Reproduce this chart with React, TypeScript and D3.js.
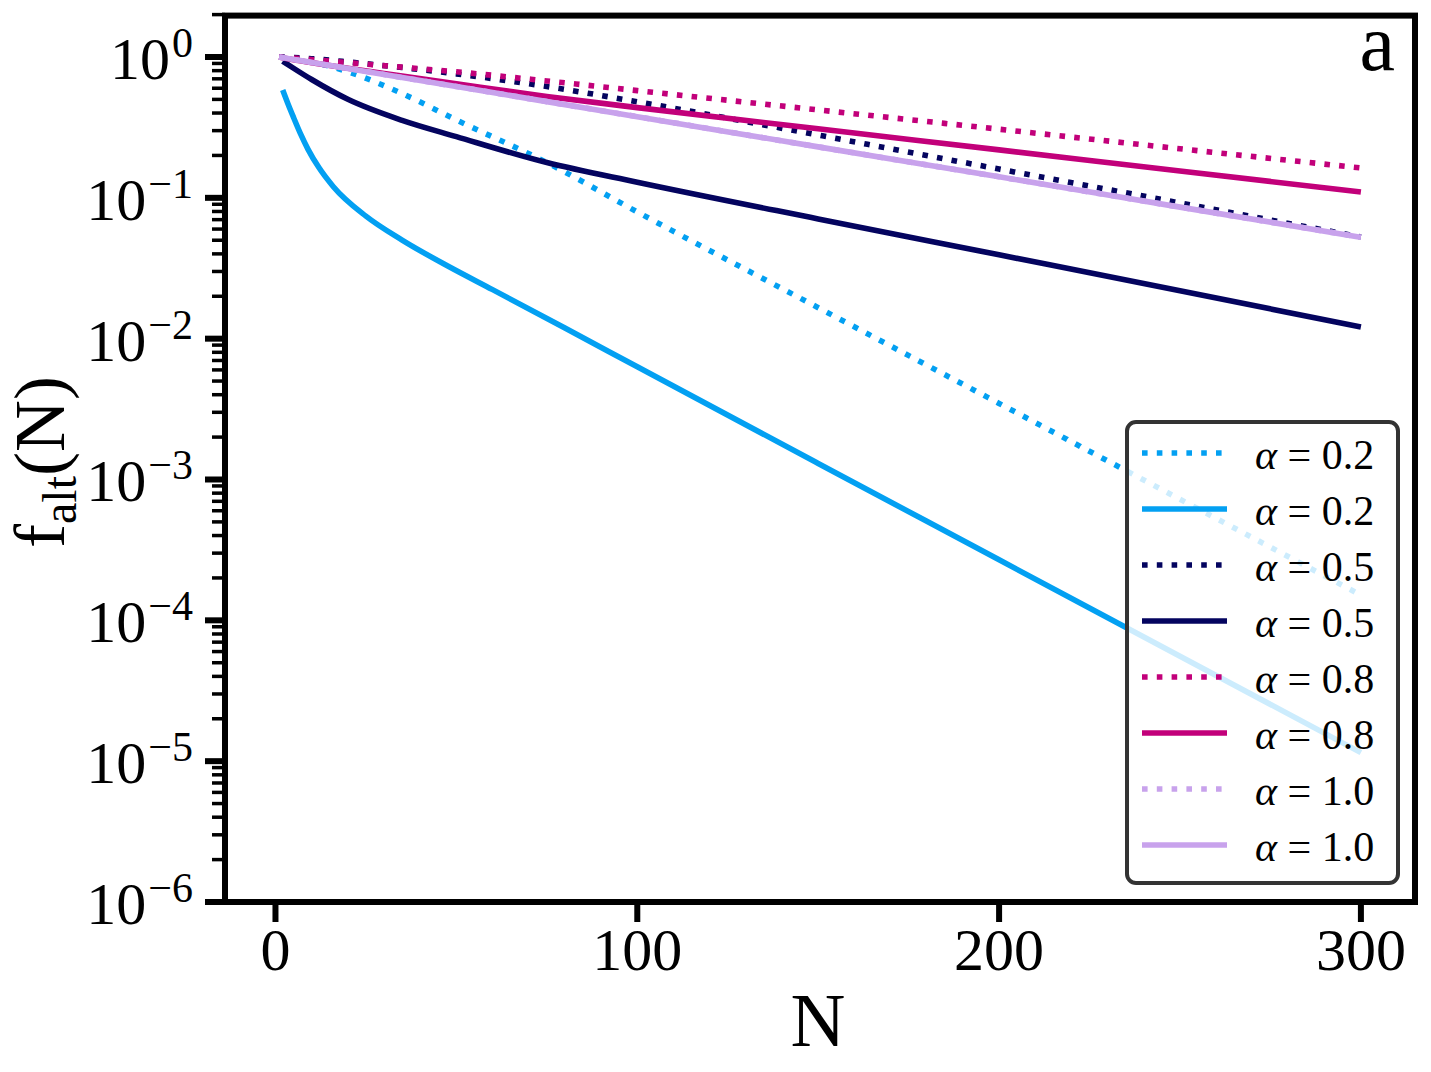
import React, { useRef, useEffect } from "react";
import * as d3 from "d3";

const nGrid = [1, 5, 10, 20, 35, 50, 75, 100, 150, 200, 250, 300];
const nLightBlueSolid = [2, 3.5, 5, 7, 9, 12, 16, 25, 35, 48, 60, 80, 100, 150, 200, 250, 300];
const nNavySolid = [2, 5, 10, 20, 35, 50, 75, 100, 150, 200, 250, 300];

// f_alt(N) values
const a02Dotted = [1.0, 0.973, 0.923, 0.785, 0.55, 0.357, 0.178, 0.0794, 0.0166, 3.47e-3, 7.24e-4, 1.51e-4];
const a02Solid = [
  0.583, 0.462, 0.372, 0.282, 0.221, 0.164, 0.12, 0.0741, 0.0501, 0.0324, 0.0223, 0.0119, 6.31e-3, 1.3e-3,
  2.69e-4, 5.56e-5, 1.15e-5,
];
const a05Dotted = [1.0, 0.991, 0.973, 0.923, 0.841, 0.759, 0.617, 0.481, 0.279, 0.16, 0.092, 0.0527];
const a05Solid = [0.933, 0.832, 0.692, 0.501, 0.355, 0.272, 0.178, 0.129, 0.0708, 0.0394, 0.0219, 0.0121];
const a08Dotted = [1.0, 0.982, 0.959, 0.912, 0.847, 0.785, 0.676, 0.577, 0.421, 0.307, 0.223, 0.163];
const a08Solid = [1.0, 0.955, 0.912, 0.832, 0.733, 0.646, 0.525, 0.437, 0.309, 0.219, 0.155, 0.11];
const a10Dotted = [1.0, 0.961, 0.915, 0.829, 0.715, 0.617, 0.482, 0.377, 0.23, 0.141, 0.0859, 0.0525];
const a10Solid = [1.0, 0.961, 0.915, 0.829, 0.715, 0.617, 0.482, 0.377, 0.23, 0.141, 0.0859, 0.0525];

const legendLabels = ["0.2", "0.2", "0.5", "0.5", "0.8", "0.8", "1.0", "1.0"];
const xTicks = [0, 100, 200, 300];
const yExponents = [0, -1, -2, -3, -4, -5, -6];

const LIGHT_BLUE = "#03A0F2";
const NAVY = "#04045F";
const MAGENTA = "#C2007A";
const LAVENDER = "#C8A2EC";

type Series = { n: number[]; v: number[]; color: string; dotted: boolean };

const series: Series[] = [
  { n: nGrid, v: a02Dotted, color: LIGHT_BLUE, dotted: true },
  { n: nLightBlueSolid, v: a02Solid, color: LIGHT_BLUE, dotted: false },
  { n: nGrid, v: a05Dotted, color: NAVY, dotted: true },
  { n: nNavySolid, v: a05Solid, color: NAVY, dotted: false },
  { n: nGrid, v: a08Dotted, color: MAGENTA, dotted: true },
  { n: nGrid, v: a08Solid, color: MAGENTA, dotted: false },
  { n: nGrid, v: a10Dotted, color: LAVENDER, dotted: true },
  { n: nGrid, v: a10Solid, color: LAVENDER, dotted: false },
];

const FONT = "'Liberation Serif', 'DejaVu Serif', serif";

const App: React.FC = () => {
  const svgRef = useRef<SVGSVGElement | null>(null);

  useEffect(() => {
    const width = 1431;
    const height = 1072;
    const left = 225;
    const right = 1415;
    const bottom = 902;

    const svg = d3.select(svgRef.current).attr("width", width).attr("height", height);
    svg.selectAll("*").remove();

    const xScale = d3.scaleLinear().domain([-13.95, 314.95]).range([left, right]);
    const yScale = d3.scaleLog().domain([1e-6, 2]).range([bottom, 14.6]);
    const top = yScale(2);

    svg
      .append("defs")
      .append("clipPath")
      .attr("id", "plot-clip")
      .append("rect")
      .attr("x", left)
      .attr("y", top)
      .attr("width", right - left)
      .attr("height", bottom - top);

    // curves
    const line = d3
      .line<[number, number]>()
      .x((d) => xScale(d[0]))
      .y((d) => yScale(d[1]))
      .curve(d3.curveMonotoneX);

    const curves = svg.append("g").attr("clip-path", "url(#plot-clip)");
    series.forEach((s) => {
      const pts = s.n.map((n, i) => [n, s.v[i]] as [number, number]);
      curves
        .append("path")
        .datum(pts)
        .attr("fill", "none")
        .attr("stroke", s.color)
        .attr("stroke-width", 5.6)
        .attr("stroke-dasharray", s.dotted ? "5.6 9.2" : null)
        .attr("d", line);
    });

    // minor y ticks
    const minor: number[] = [];
    for (let e = -6; e <= 0; e++) {
      for (let k = 2; k <= 9; k++) {
        const v = k * Math.pow(10, e);
        if (v <= 2.0000001) minor.push(v);
      }
    }
    svg
      .append("g")
      .selectAll("line")
      .data(minor)
      .enter()
      .append("line")
      .attr("x1", left - 13)
      .attr("x2", left)
      .attr("y1", (d) => yScale(d))
      .attr("y2", (d) => yScale(d))
      .attr("stroke", "#000")
      .attr("stroke-width", 3.5);

    // major y ticks + labels
    const yMajor = svg.append("g");
    yExponents.forEach((e) => {
      const y = yScale(Math.pow(10, e));
      yMajor
        .append("line")
        .attr("x1", left - 20)
        .attr("x2", left)
        .attr("y1", y)
        .attr("y2", y)
        .attr("stroke", "#000")
        .attr("stroke-width", 6);
      const t = yMajor
        .append("text")
        .attr("x", 193)
        .attr("y", y + 22)
        .attr("text-anchor", "end")
        .style("font-family", FONT)
        .style("font-size", "60px")
        .style("fill", "#000");
      t.append("tspan").text("10");
      t.append("tspan")
        .attr("dy", -22)
        .attr("dx", 2)
        .style("font-size", "42px")
        .text(e === 0 ? "0" : `\u2212${-e}`);
    });

    // x ticks + labels
    const xAxis = svg.append("g");
    xTicks.forEach((v) => {
      const x = xScale(v);
      xAxis
        .append("line")
        .attr("x1", x)
        .attr("x2", x)
        .attr("y1", bottom)
        .attr("y2", bottom + 20)
        .attr("stroke", "#000")
        .attr("stroke-width", 6);
      xAxis
        .append("text")
        .attr("x", x)
        .attr("y", 970)
        .attr("text-anchor", "middle")
        .style("font-family", FONT)
        .style("font-size", "60px")
        .style("fill", "#000")
        .text(String(v));
    });

    // frame
    svg
      .append("rect")
      .attr("x", left)
      .attr("y", top + 1)
      .attr("width", right - left)
      .attr("height", bottom - top - 1)
      .attr("fill", "none")
      .attr("stroke", "#000")
      .attr("stroke-width", 6);

    // axis labels
    svg
      .append("text")
      .attr("x", 818)
      .attr("y", 1046)
      .attr("text-anchor", "middle")
      .style("font-family", FONT)
      .style("font-size", "76px")
      .text("N");

    const yl = svg
      .append("text")
      .attr("transform", "translate(64,462) rotate(-90)")
      .attr("text-anchor", "middle")
      .style("font-family", FONT)
      .style("font-size", "72px");
    yl.append("tspan").text("f");
    yl.append("tspan").attr("dy", 12).style("font-size", "48px").text("alt");
    yl.append("tspan").attr("dy", -12).text("(N)");

    // panel label
    svg
      .append("text")
      .attr("x", 1395)
      .attr("y", 70)
      .attr("text-anchor", "end")
      .style("font-family", FONT)
      .style("font-size", "80px")
      .text("a");

    // legend
    const legend = svg.append("g");
    legend
      .append("rect")
      .attr("x", 1127)
      .attr("y", 422)
      .attr("width", 271)
      .attr("height", 461)
      .attr("rx", 9)
      .attr("fill", "#fff")
      .attr("fill-opacity", 0.8)
      .attr("stroke", "#333")
      .attr("stroke-width", 4);

    series.forEach((s, i) => {
      const y = 453 + i * 56;
      legend
        .append("line")
        .attr("x1", 1142)
        .attr("x2", 1227)
        .attr("y1", y)
        .attr("y2", y)
        .attr("stroke", s.color)
        .attr("stroke-width", 5.6)
        .attr("stroke-dasharray", s.dotted ? "5.6 9.2" : null);
      const t = legend
        .append("text")
        .attr("x", 1255)
        .attr("y", y + 16)
        .style("font-family", FONT)
        .style("font-size", "42px")
        .style("fill", "#000");
      t.append("tspan").style("font-style", "italic").text("\u03b1");
      t.append("tspan").text(` = ${legendLabels[i]}`);
    });
  }, []);

  return (
    <div style={{ position: "absolute", left: 0, top: 0, background: "#fff" }}>
      <svg ref={svgRef}></svg>
    </div>
  );
};

export default App;
